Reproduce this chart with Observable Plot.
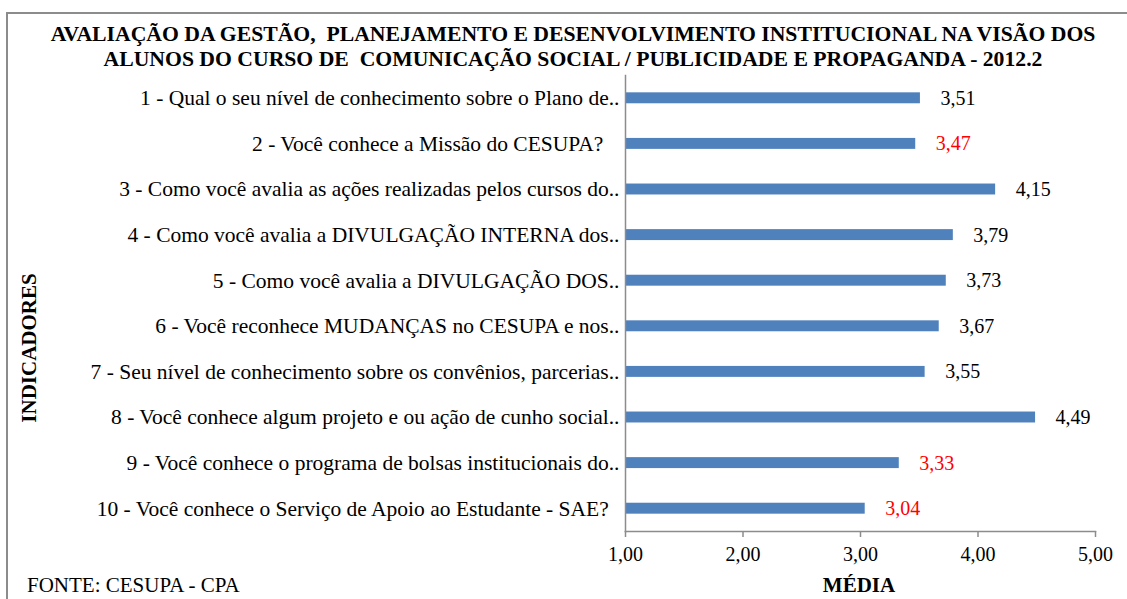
<!DOCTYPE html>
<html><head><meta charset="utf-8">
<script src="https://cdn.jsdelivr.net/npm/d3@7"></script>
<script src="https://cdn.jsdelivr.net/npm/@observablehq/plot@0.6"></script>
<style>
body{margin:0;overflow:hidden;background:#fff;}
#wrap{position:relative;width:1127px;height:599px;overflow:hidden;font-family:"Liberation Serif","Times New Roman",serif;color:#000;}
#frame{position:absolute;left:6px;top:12px;width:1300px;height:800px;border:2px solid #8c8c8c;box-sizing:border-box;}
#chart{position:absolute;left:0;top:0;}
#chart svg text{font-family:"Liberation Serif","Times New Roman",serif !important;}
#title{position:absolute;left:13px;width:1120px;top:22px;text-align:center;font-weight:bold;font-size:21.7px;line-height:25px;white-space:nowrap;}
#ylab{position:absolute;left:29px;top:348px;transform:translate(-50%,-50%) rotate(-90deg);font-weight:bold;font-size:21px;white-space:nowrap;line-height:20px;}
#xlab{position:absolute;left:859px;top:585px;transform:translate(-50%,-50%);font-weight:bold;font-size:21px;white-space:nowrap;line-height:18px;}
#source{position:absolute;left:27px;top:585px;transform:translateY(-50%);font-size:21px;white-space:nowrap;line-height:18px;}
</style>
</head><body>
<div id="wrap">
<div id="chart"></div>
<div id="frame"></div>
<div id="title">AVALIAÇÃO DA GESTÃO,&nbsp; PLANEJAMENTO E DESENVOLVIMENTO INSTITUCIONAL NA VISÃO DOS<br>ALUNOS DO CURSO DE&nbsp; COMUNICAÇÃO SOCIAL / PUBLICIDADE E PROPAGANDA - 2012.2</div>
<div id="ylab">INDICADORES</div>
<div id="xlab">MÉDIA</div>
<div id="source">FONTE: CESUPA - CPA</div>
</div>
<script>
const questions = [
  "1 - Qual o seu nível de conhecimento sobre o Plano de..",
  "2 - Você conhece a Missão do CESUPA?\u00a0\u00a0\u00a0",
  "3 - Como você avalia as ações realizadas pelos cursos do..",
  "4 - Como você avalia a DIVULGAÇÃO INTERNA dos..",
  "5 - Como você avalia a DIVULGAÇÃO DOS..",
  "6 - Você reconhece MUDANÇAS no CESUPA e nos..",
  "7 - Seu nível de conhecimento sobre os convênios, parcerias..",
  "8 - Você conhece algum projeto e ou ação de cunho social..",
  "9 - Você conhece o programa de bolsas institucionais do..",
  "10 - Você conhece o Serviço de Apoio ao Estudante - SAE?\u00a0\u00a0"
];
const means = [3.51, 3.47, 4.15, 3.79, 3.73, 3.67, 3.55, 4.49, 3.33, 3.04];
const xTicks = [1, 2, 3, 4, 5];
const xDomain = [1, 5];

const fmt = v => v.toFixed(2).replace(".", ",");
const data = questions.map((q, i) => ({q, v: means[i]}));
const serif = '"Liberation Serif","Times New Roman",serif';

const chart = Plot.plot({
  width: 1127, height: 599,
  marginLeft: 625, marginRight: 32, marginTop: 75, marginBottom: 68,
  style: {fontFamily: serif, fontSize: "20px", color: "#000", background: "transparent"},
  x: {domain: xDomain, label: null},
  y: {domain: questions, label: null, paddingInner: 0.76, paddingOuter: 0.38, round: false},
  color: {type: "identity"},
  marks: [
    Plot.barX(data, {x1: xDomain[0], x2: "v", y: "q", fill: "#4F81BD"}),
    Plot.text(data, {x: "v", y: "q", text: d => fmt(d.v), textAnchor: "start", dx: 20, fill: d => d.v < 3.5 ? "#ff0000" : "#000", fontSize: 20, fontFamily: serif}),
    Plot.axisY({tickSize: 0, tickPadding: 6, fontSize: 21.5, fontFamily: serif, fill: "#000", textOverflow: null}),
    Plot.axisX({ticks: xTicks, tickFormat: fmt, tickSize: 6, tickPadding: 9, fontSize: 20, fontFamily: serif, stroke: "#8c8c8c", fill: "#000", strokeWidth: 1.5}),
    Plot.frame({anchor: "left", stroke: "#8c8c8c", strokeWidth: 1.5}),
    Plot.frame({anchor: "bottom", stroke: "#8c8c8c", strokeWidth: 1.5})
  ]
});
document.getElementById("chart").appendChild(chart);
</script>
</body></html>
